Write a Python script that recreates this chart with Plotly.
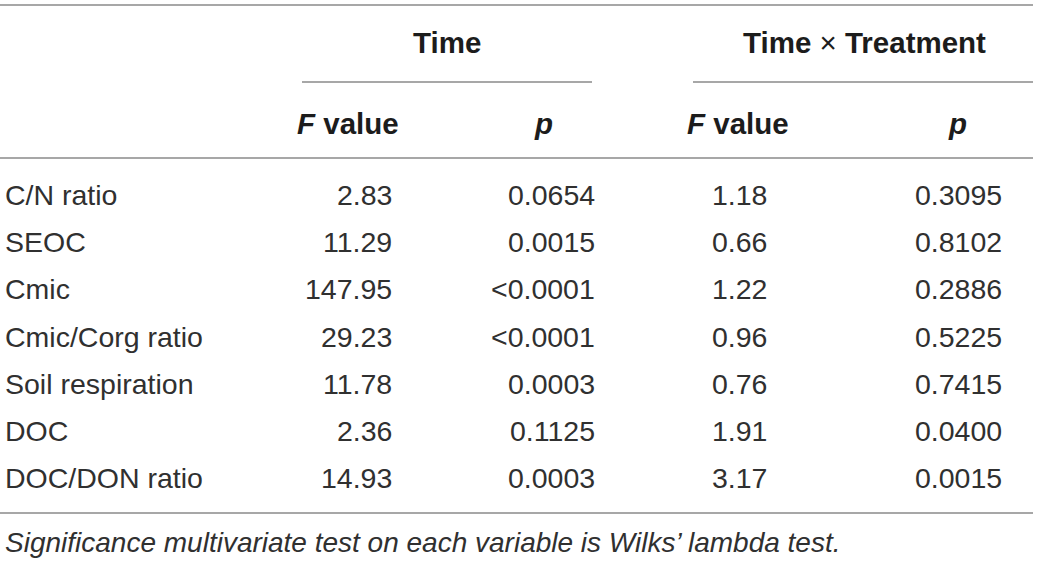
import plotly.graph_objects as go

# table contents
variables = ["C/N ratio", "SEOC", "Cmic", "Cmic/Corg ratio", "Soil respiration", "DOC", "DOC/DON ratio"]
time_f = ["2.83", "11.29", "147.95", "29.23", "11.78", "2.36", "14.93"]
time_p = ["0.0654", "0.0015", "<0.0001", "<0.0001", "0.0003", "0.1125", "0.0003"]
txt_f = ["1.18", "0.66", "1.22", "0.96", "0.76", "1.91", "3.17"]
txt_p = ["0.3095", "0.8102", "0.2886", "0.5225", "0.7415", "0.0400", "0.0015"]
groups = ["<b>Time</b>", "<b>Time</b> × <b>Treatment</b>"]
sub_heads = ["<b><i>F</i> value</b>", "<b><i>p</i></b>", "<b><i>F</i> value</b>", "<b><i>p</i></b>"]
footnote = "<i>Significance multivariate test on each variable is Wilks’ lambda test.</i>"

W, H = 1039, 562
FONT = "Liberation Sans"
INK = "#303030"
HEAD_INK = "#1c1c1c"
RULE = "#8a8a8a"
BODY, HEAD, NOTE = 28.5, 29.5, 28

# layout (pixel positions)
row0, row_h = 195, 47.2
label_x = 3
num_right = [394, 597, 769, 1004]
head_center = [348, 543, 738, 957]
group_center = [447, 864]
group_rule = [(302, 592), (693, 1033)]

def ry(i):
    return row0 + row_h * i

fig = go.Figure()
ann = []

columns = [time_f, time_p, txt_f, txt_p]
for i, name in enumerate(variables):
    ann.append(dict(x=label_x, y=ry(i), text=name, xanchor="left"))
    for c, col in enumerate(columns):
        ann.append(dict(x=num_right[c], y=ry(i), text=col[i], xanchor="right"))

for c, h in enumerate(sub_heads):
    ann.append(dict(x=head_center[c], y=123, text=h, xanchor="center",
                    font=dict(size=HEAD, color=HEAD_INK)))
for g, t in enumerate(groups):
    ann.append(dict(x=group_center[g], y=42, text=t, xanchor="center",
                    font=dict(size=HEAD, color=HEAD_INK)))

ann.append(dict(x=label_x, y=542, text=footnote, xanchor="left", font=dict(size=NOTE)))

for a in ann:
    f = a.get("font", {})
    a["font"] = dict(family=FONT, size=f.get("size", BODY), color=f.get("color", INK))
    a.update(xref="x", yref="y", yanchor="middle", showarrow=False)

shapes = [
    dict(x0=0, x1=1033, y0=5, y1=5),
    dict(x0=0, x1=1033, y0=158, y1=158),
    dict(x0=0, x1=1033, y0=513, y1=513),
]
for a, b in group_rule:
    shapes.append(dict(x0=a, x1=b, y0=82, y1=82))
for s in shapes:
    s.update(type="line", xref="x", yref="y", line=dict(color=RULE, width=1.5))

fig.update_layout(
    width=W, height=H,
    margin=dict(l=0, r=0, t=0, b=0),
    paper_bgcolor="white", plot_bgcolor="white",
    xaxis=dict(range=[0, W], visible=False, fixedrange=True),
    yaxis=dict(range=[H, 0], visible=False, fixedrange=True),
    annotations=ann, shapes=shapes, showlegend=False,
)

fig.write_html("out.html", config={"displayModeBar": False},
               post_script="document.body.style.margin='0';document.body.style.overflow='hidden';")
